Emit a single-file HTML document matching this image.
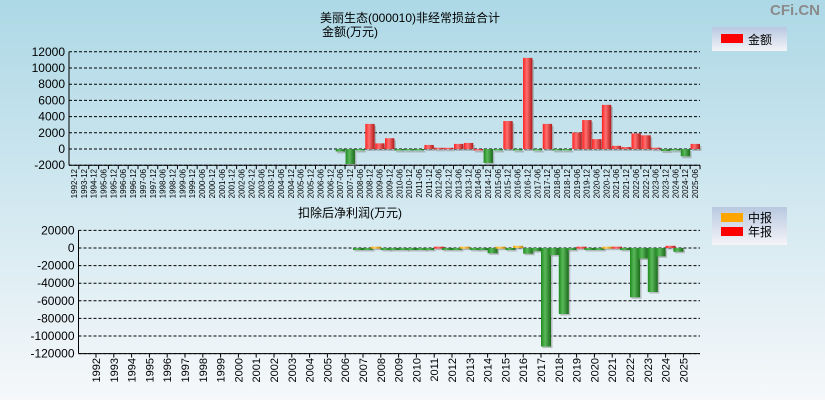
<!DOCTYPE html>
<html><head><meta charset="utf-8"><style>
body{margin:0;width:825px;height:400px;overflow:hidden;font-family:"Liberation Sans","Noto Sans CJK SC",sans-serif;}
svg{display:block}
</style></head><body>
<svg id="c" width="825" height="400" xmlns="http://www.w3.org/2000/svg">
<defs>
<linearGradient id="bg" x1="0" y1="0" x2="0" y2="1"><stop offset="0" stop-color="#add8e6"/><stop offset="1" stop-color="#f6f8fa"/></linearGradient>
<linearGradient id="gr" x1="0" y1="0" x2="1" y2="0"><stop offset="0" stop-color="#ff2020"/><stop offset="0.4" stop-color="#ff7070"/><stop offset="1" stop-color="#b01818"/></linearGradient>
<linearGradient id="gg" x1="0" y1="0" x2="1" y2="0"><stop offset="0" stop-color="#1e8a1e"/><stop offset="0.4" stop-color="#5ab85a"/><stop offset="1" stop-color="#1a6a1a"/></linearGradient>
<linearGradient id="go" x1="0" y1="0" x2="1" y2="0"><stop offset="0" stop-color="#f0a000"/><stop offset="0.4" stop-color="#ffd060"/><stop offset="1" stop-color="#c08000"/></linearGradient>
<linearGradient id="lg" x1="0" y1="0" x2="0" y2="1"><stop offset="0" stop-color="#b8c8e0"/><stop offset="1" stop-color="#f4f4f8"/></linearGradient>
</defs>
<rect width="825" height="400" fill="url(#bg)"/>
<text x="820" y="15" text-anchor="end" font-size="15" font-weight="bold" fill="#8a8a8a">CFi.CN</text>
<text x="410" y="22" text-anchor="middle" font-size="12">美丽生态(000010)非经常损益合计</text>
<text x="322" y="36" font-size="12">金额(万元)</text>
<text x="350" y="217" text-anchor="middle" font-size="12">扣除后净利润(万元)</text>
<g>
<rect x="712" y="27" width="75" height="24" fill="url(#lg)"/>
<rect x="721" y="34" width="22" height="9" fill="#ff0000"/>
<text x="748" y="44" font-size="12">金额</text>
</g>
<g>
<rect x="712" y="207" width="75" height="38" fill="url(#lg)"/>
<rect x="721" y="213" width="22" height="9" fill="#ffa500"/>
<text x="748" y="222" font-size="12">中报</text>
<rect x="721" y="227" width="22" height="9" fill="#ff0000"/>
<text x="748" y="236" font-size="12">年报</text>
</g>
<g id="top"></g>
<g id="bot"></g>
</svg>
<script>
// ---- top chart data ----
const topCats = ["1992-12","1993-12","1994-12"];
for (let y = 1995; y <= 2025; y++) { topCats.push(y + "-06"); if (y < 2025) topCats.push(y + "-12"); }
const topValues = [null,null,null,null,null,null,null,null,null,null,null,null,null,null,null,null,null,null,null,null,null,null,null,null,null,null,null,
 -300,-1850,-100,3100,700,1330,-50,-50,-50,500,150,150,630,750,0,-1720,-50,3450,-30,11250,-30,3100,-30,-30,2040,3570,1220,5450,390,240,1920,1690,160,-250,-50,-900,630];
const topTicks = [12000,10000,8000,6000,4000,2000,0,-2000];
// ---- bottom chart data ----
const years = [];
for (let y = 1992; y <= 2025; y++) years.push(y);
const midValues = [null,null,null,null,null,null,null,null,null,null,null,null,null,null,null,
 -500,1500,-500,-500,-500,-500,1500,-500,1500,2500,-3500,-8000,-500,-500,1500,-500,-12000,-9500,-4300];
const annualValues = [null,null,null,null,null,null,null,null,null,null,null,null,null,null,null,
 -500,-500,-500,-500,1500,-500,-500,-6000,-300,-6500,-112000,-75000,1500,-500,1500,-56000,-50000,2500,null];
const botTicks = [20000,0,-20000,-40000,-60000,-80000,-100000,-120000];

const NS = "http://www.w3.org/2000/svg";
function mk(parent, tag, attrs) {
  const e = document.createElementNS(NS, tag);
  for (const k in attrs) e.setAttribute(k, attrs[k]);
  parent.appendChild(e);
  return e;
}
// top axes
const T = document.getElementById("top");
const tx0 = 69, tx1 = 700;
const ty = v => 149 - v * 0.0081;
const slot = (tx1 - tx0) / topCats.length;
topTicks.forEach(v => {
  const y = ty(v);
  const gl = mk(T, "line", {x1: tx0, x2: tx1, y1: y, y2: y, stroke: "#000", "stroke-dasharray": "3,2", "stroke-width": 1});
  
  
  const tl = mk(T, "text", {x: tx0 - 4, y: y + 4, "text-anchor": "end", "font-size": 12});
  tl.textContent = v;
  
  
});
const ya = mk(T, "line", {x1: tx0, x2: tx0, y1: ty(12000), y2: ty(-2000), stroke: "#000"});


const xa = mk(T, "line", {x1: tx0, x2: tx1, y1: ty(-2000), y2: ty(-2000), stroke: "#000"});


topCats.forEach((c, i) => {
  const x = tx0 + i * slot;
  mk(T, "line", {x1: x + slot, x2: x + slot, y1: ty(-2000), y2: ty(-2000) + 4, stroke: "#000"});
  const lx = x + slot / 2 + 3;
  const lab = mk(T, "text", {x: lx, y: 169, "font-size": 8, "text-anchor": "end", transform: `rotate(-90 ${lx} 169)`});
  lab.textContent = c;
  
  
  const v = topValues[i];
  if (v === null || v === undefined) return;
  const y0 = ty(0), y1 = ty(v);
  const top = Math.min(y0, y1), h = Math.max(Math.abs(y1 - y0), 1.5);
  mk(T, "rect", {x: x + 2, y: top + 2, width: slot - 0.5, height: h, fill: "#888", opacity: 0.5});
  const b = mk(T, "rect", {x: x + 0.5, y: top, width: slot - 0.5, height: h, fill: v >= 0 ? "url(#gr)" : "url(#gg)"});
  
  
});
// bottom
const B = document.getElementById("bot");
const bx0 = 78.5, bx1 = 700;
const by = v => 248 - v * 0.00088;
const bt = yr => 96 + (yr - 1992) * 17.8;
botTicks.forEach(v => {
  const y = by(v);
  const gl = mk(B, "line", {x1: bx0, x2: bx1, y1: y, y2: y, stroke: "#000", "stroke-dasharray": "3,2"});
  
  
  const tl = mk(B, "text", {x: bx0 - 4, y: y + 4, "text-anchor": "end", "font-size": 12});
  tl.textContent = v;
  
  
});
const bya = mk(B, "line", {x1: bx0, x2: bx0, y1: by(20000), y2: by(-120000), stroke: "#000"});


const bxa = mk(B, "line", {x1: bx0, x2: bx1, y1: by(-120000), y2: by(-120000), stroke: "#000"});


function bar(x, v, fillPos) {
  if (v === null || v === undefined) return;
  const y0 = by(0), y1 = by(v);
  const top = Math.min(y0, y1), h = Math.max(Math.abs(y1 - y0), 2);
  mk(B, "rect", {x: x + 1.5, y: top + 1.5, width: 10, height: h, fill: "#888", opacity: 0.5});
  const b = mk(B, "rect", {x: x, y: top, width: 10, height: h, fill: v >= 0 ? fillPos : "url(#gg)"});
  
  
}
years.forEach((yr, i) => {
  const x = bt(yr);
  mk(B, "line", {x1: x, x2: x, y1: by(-120000), y2: by(-120000) + 4, stroke: "#000"});
  const lab = mk(B, "text", {x: x + 4, y: 358, "font-size": 11, "text-anchor": "end", transform: `rotate(-90 ${x + 4} 358)`});
  lab.textContent = yr;
  
  
  bar(x - 10, midValues[i], "url(#go)");
  bar(x, annualValues[i], "url(#gr)");
});
</script>
</body></html>
